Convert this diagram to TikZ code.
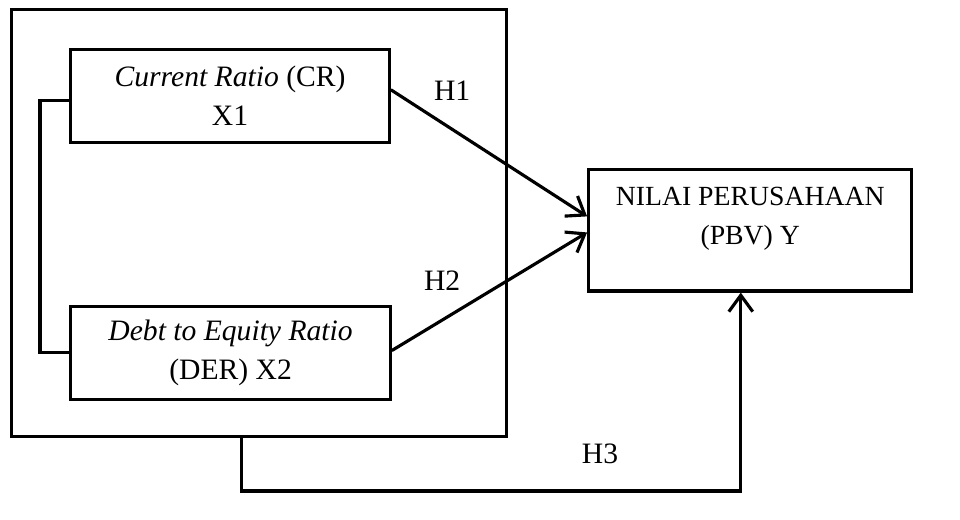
\documentclass[tikz,border=0pt]{standalone}
\usepackage{fontspec}
\setmainfont{Liberation Serif}
\usetikzlibrary{arrows.meta,calc}

\tikzset{
  kotak/.style={draw, line width=2.5pt, align=center, inner sep=0pt},
  panah/.style={line width=2.5pt, -{Straight Barb[length=13pt,width=19pt]}},
  garis/.style={line width=2.5pt},
}

\begin{document}
\begin{tikzpicture}[x=0.75pt,y=0.75pt,yscale=-1,xscale=1, font=\fontsize{23.5}{31}\selectfont]
%set diagram area
\useasboundingbox (0,0) rectangle (1016,550);

%Shape: Rectangle (outer group)
\node [kotak, minimum width=393pt, minimum height=339pt] (grup) at (274,236) {};
% Text Node
\node [kotak, minimum width=252.75pt, minimum height=74.25pt] (cr) at (243.5,101.5) {\textit{Current Ratio} (CR)\\X1};
% Text Node
\node [kotak, minimum width=253.5pt, minimum height=74.25pt] (der) at (244,373.5) {\textit{Debt to Equity Ratio}\\(DER) X2};
%Shape: Rectangle
\node [kotak, minimum width=256.5pt, minimum height=96.75pt] (nilai) at (794,243.5) {};
% Text Node
\node [align=center, inner sep=0pt, font=\fontsize{22}{31}\selectfont] (nilaiteks) at (794,232) {NILAI PERUSAHAAN\\(PBV) Y};

%Straight Lines (bracket)
\draw [garis] ($(cr.west)+(0,5)$) -- ++(-31,0) |- (der.west);
%Straight Lines
\draw [panah] ($(cr.east)+(0,-6.5)$) -- ($(nilai.west)+(0,-14.5)$);
%Straight Lines
\draw [panah] ($(der.east)+(0,-2.5)$) -- ($(nilai.west)+(0,2.5)$);
%Straight Lines
\draw [panah] ($(grup.south)+(-18,0)$) -- ++(0,56) -| ($(nilai.south)+(-10,0)$);

% Text Node
\node [inner sep=0pt] (h1) at (478.5,95.5) {H1};
% Text Node
\node [inner sep=0pt] (h2) at (468,297.5) {H2};
% Text Node
\node [inner sep=0pt] (h3) at (635,480) {H3};

\end{tikzpicture}
\end{document}
